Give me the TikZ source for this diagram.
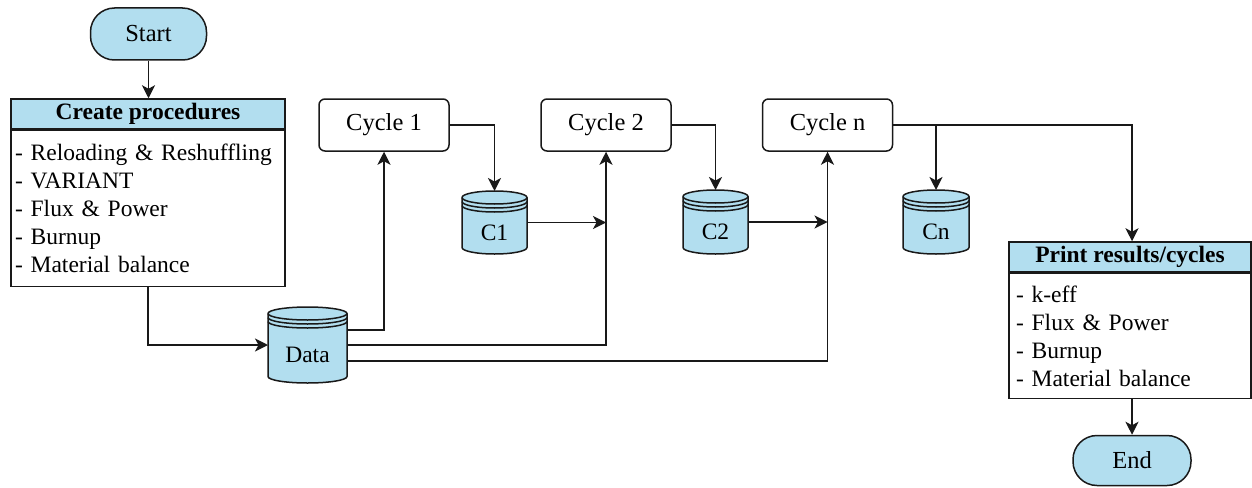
\documentclass[tikz,border=0pt]{standalone}
\usepackage{fontspec}
\setmainfont{Liberation Serif}
\usetikzlibrary{arrows.meta,calc}
\definecolor{lblue}{RGB}{178,222,239}
\definecolor{lin}{RGB}{25,25,25}
\tikzset{
  shapeline/.style={draw=lin, line width=1.5pt},
  terminal/.style={shapeline, fill=lblue, rounded corners=24pt, minimum width=116pt, minimum height=52pt, inner sep=0pt, font=\fontsize{24.5}{28}\selectfont},
  hdr/.style={shapeline, fill=lblue, minimum height=30pt, inner sep=0pt, font=\fontsize{23.5}{28}\selectfont\bfseries},
  bodybox/.style={shapeline, fill=white, align=left, inner ysep=0pt},
  cyclebox/.style={shapeline, fill=white, rounded corners=6pt, minimum width=130pt, minimum height=52pt, inner sep=0pt, font=\fontsize{24.5}{28}\selectfont},
  cylbox/.style={rectangle, inner sep=0pt, outer sep=0pt},
  conn/.style={draw=lin, line width=1.5pt, -{Stealth[length=13pt,width=13pt,inset=3.5pt]}},
}
\newcommand\dbcyl[6]{%
  \node[cylbox, minimum width=#4pt, minimum height=#5pt] (#1) at (#2,#3) {};
  \pgfmathsetmacro\cylrx{#4/2}%
  \filldraw[shapeline, fill=lblue] ($(#1.north west)+(0,6.5)$) -- ($(#1.south west)+(0,-6.5)$)
     arc[start angle=180,end angle=360,x radius=\cylrx pt,y radius=6.5pt]
     -- ($(#1.north east)+(0,6.5)$)
     arc[start angle=0,end angle=180,x radius=\cylrx pt,y radius=6.5pt] -- cycle;
  \draw[shapeline] ($(#1.north west)+(0,6.5)$) arc[start angle=180,end angle=360,x radius=\cylrx pt,y radius=6.5pt];
  \draw[shapeline] ($(#1.north west)+(0,10.5)$) arc[start angle=180,end angle=360,x radius=\cylrx pt,y radius=6.5pt];
  \draw[shapeline] ($(#1.north west)+(0,14.5)$) arc[start angle=180,end angle=360,x radius=\cylrx pt,y radius=6.5pt];
  \node (#1l) at ($(#1.center)+(0,10)$) {#6};
}
\begin{document}
\begin{tikzpicture}[x=1pt, y=-1pt, font=\fontsize{23.5}{28}\selectfont]
\useasboundingbox (0,0) rectangle (1252,487);

% terminals
\node[terminal] (start) at (148.5,34) {Start};
\node[terminal, minimum width=118pt, minimum height=50pt] (endt) at (1132,460.5) {End};

% create procedures
\node[hdr, minimum width=274pt] (cph) at (148,114) {Create procedures};
\node[bodybox, anchor=north, minimum width=274pt, minimum height=156pt, text width=266pt, inner xsep=4pt] (cpb) at (cph.south)
  {- Reloading \& Reshuffling\\- VARIANT\\- Flux \& Power\\- Burnup\\- Material balance};

% print results
\node[hdr, minimum width=242pt] (prh) at (1130,257) {Print results/cycles};
\node[bodybox, anchor=north, minimum width=242pt, minimum height=125pt, text width=228pt, inner xsep=7pt] (prb) at (prh.south)
  {- k-eff\\- Flux \& Power\\- Burnup\\- Material balance};

% cycles
\node[cyclebox] (cyc1) at (384,125) {Cycle 1};
\node[cyclebox] (cyc2) at (606,125) {Cycle 2};
\node[cyclebox] (cycn) at (827.5,125) {Cycle n};

% databases
\dbcyl{data}{307.5}{345}{79}{76}{Data}
\dbcyl{c1}{494.5}{222.5}{65}{63}{C1}
\dbcyl{c2}{715.5}{222}{65}{64}{C2}
\dbcyl{cn}{936}{222}{66}{64}{Cn}

% connectors
\draw[conn] (start.south) -- (start.south |- cph.north);
\draw[conn] (cpb.south) |- (data.west);
\draw[conn] ($(data.east)+(0,-15)$) -| (cyc1.south);
\draw[conn] (data.east) -| (cyc2.south);
\draw[conn] ($(data.east)+(0,16)$) -| (cycn.south);
\draw[conn] (cyc1.east) -| (c1.north);
\draw[conn] (c1.east) -- (c1.east -| cyc2.south);
\draw[conn] (cyc2.east) -| (c2.north);
\draw[conn] (c2.east) -- (c2.east -| cycn.south);
\draw[conn] (cycn.east) -| (cn.north);
\draw[conn] (cycn.east) -| (prh.north -| endt.north);
\draw[conn] (prb.south -| endt.north) -- (endt.north);
\end{tikzpicture}
\end{document}
